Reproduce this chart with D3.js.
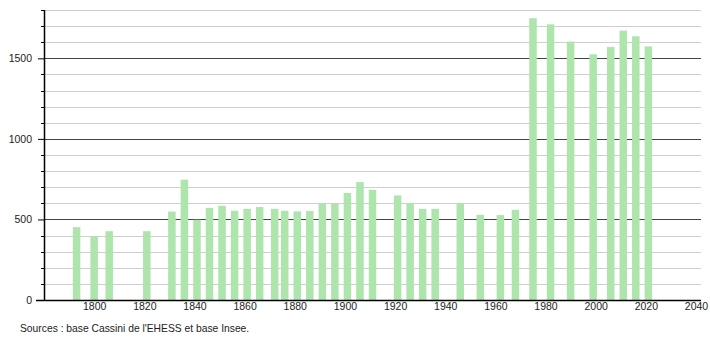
<!DOCTYPE html>
<html lang="fr">
  <head>
    <meta charset="utf-8">
    <title>Population</title>
    <style>
      html, body {
        margin: 0;
        background: #fff;
        font-family: "Liberation Sans", Arial, sans-serif;
      }
      svg text {
        font-size: 10.5px;
        fill: #222;
      }
    </style>
    <script src="https://d3js.org/d3.v7.min.js"></script>
  </head>
  <body>
    <svg id="chart" width="710" height="340"></svg>
  </body>
  <script>
  // census years and population
  const years = [1793, 1800, 1806, 1821, 1831, 1836, 1841, 1846, 1851, 1856, 1861, 1866,
    1872, 1876, 1881, 1886, 1891, 1896, 1901, 1906, 1911, 1921, 1926, 1931, 1936,
    1946, 1954, 1962, 1968, 1975, 1982, 1990, 1999, 2006, 2011, 2016, 2021];
  const population = [452, 394, 427, 427, 549, 747, 498, 572, 585, 554, 566, 577,
    566, 554, 550, 552, 600, 597, 664, 732, 684, 649, 602, 566, 566,
    602, 529, 527, 560, 1749, 1711, 1604, 1525, 1570, 1672, 1637, 1574];
  const xTicks = [1800, 1820, 1840, 1860, 1880, 1900, 1920, 1940, 1960, 1980, 2000, 2020, 2040];
  const yTicks = [0, 500, 1000, 1500];
  const sourceText = "Sources : base Cassini de l'EHESS et base Insee.";

  const data = years.map((y, i) => ({ year: y, value: population[i] }));

  const svg = d3.select('#chart');
  const mLeft = 44, mRight = 701, mTop = 10, mBottom = 300;

  const x = d3.scaleLinear().domain([1780, 2042]).range([mLeft, mRight]);
  const y = d3.scaleLinear().domain([0, 1800]).range([mBottom, mTop]);

  // grid: light every 100, dark every 500
  const grid = svg.append('g');
  grid.selectAll('line')
    .data(d3.range(100, 1801, 100))
    .enter().append('line')
    .attr('x1', mLeft).attr('x2', mRight)
    .attr('y1', d => Math.round(y(d)) + 0.5)
    .attr('y2', d => Math.round(y(d)) + 0.5)
    .attr('stroke', d => d % 500 === 0 ? '#444' : '#cfcfcf')
    .attr('stroke-width', 1);

  // bars
  const barW = 7.5;
  svg.append('g')
    .selectAll('rect')
    .data(data)
    .enter().append('rect')
    .attr('x', d => x(d.year) - barW / 2)
    .attr('y', d => y(d.value))
    .attr('width', barW)
    .attr('height', d => y(0) - y(d.value))
    .attr('fill', '#ade5ad');

  // y axis with minor ticks
  const yAxis = d3.axisLeft(y)
    .tickValues(yTicks)
    .tickSize(6)
    .tickPadding(6)
    .tickFormat(d3.format('d'));
  const yg = svg.append('g')
    .attr('transform', `translate(${mLeft},0)`)
    .call(yAxis);
  yg.select('.domain').remove();
  yg.selectAll('.tick line').attr('stroke', '#000');
  yg.selectAll('.tick text').style('font-family', '"Liberation Sans", Arial, sans-serif').style('font-size', '10.5px').attr('fill', '#222');
  yg.append('g').selectAll('line')
    .data(d3.range(100, 1801, 100).filter(d => d % 500 !== 0))
    .enter().append('line')
    .attr('x1', -3).attr('x2', 0)
    .attr('y1', d => Math.round(y(d)) + 0.5)
    .attr('y2', d => Math.round(y(d)) + 0.5)
    .attr('stroke', '#000');
  yg.append('line')
    .attr('x1', 0.5).attr('x2', 0.5)
    .attr('y1', mTop).attr('y2', mBottom)
    .attr('stroke', '#000').attr('stroke-width', 1.5);

  // x axis
  const xAxis = d3.axisBottom(x)
    .tickValues(xTicks)
    .tickSize(0)
    .tickPadding(3)
    .tickFormat(d3.format('d'));
  const xg = svg.append('g')
    .attr('transform', `translate(0,${mBottom})`)
    .call(xAxis);
  xg.select('.domain').remove();
  xg.selectAll('.tick text').style('font-family', '"Liberation Sans", Arial, sans-serif').style('font-size', '10.5px').attr('fill', '#222');
  xg.append('line')
    .attr('x1', mLeft - 8).attr('x2', mRight)
    .attr('y1', 0.5).attr('y2', 0.5)
    .attr('stroke', '#000').attr('stroke-width', 1.5);

  svg.append('text')
    .attr('x', 20)
    .attr('y', 332)
    .style('font-size', '10.3px')
    .text(sourceText);
  </script>
</html>
